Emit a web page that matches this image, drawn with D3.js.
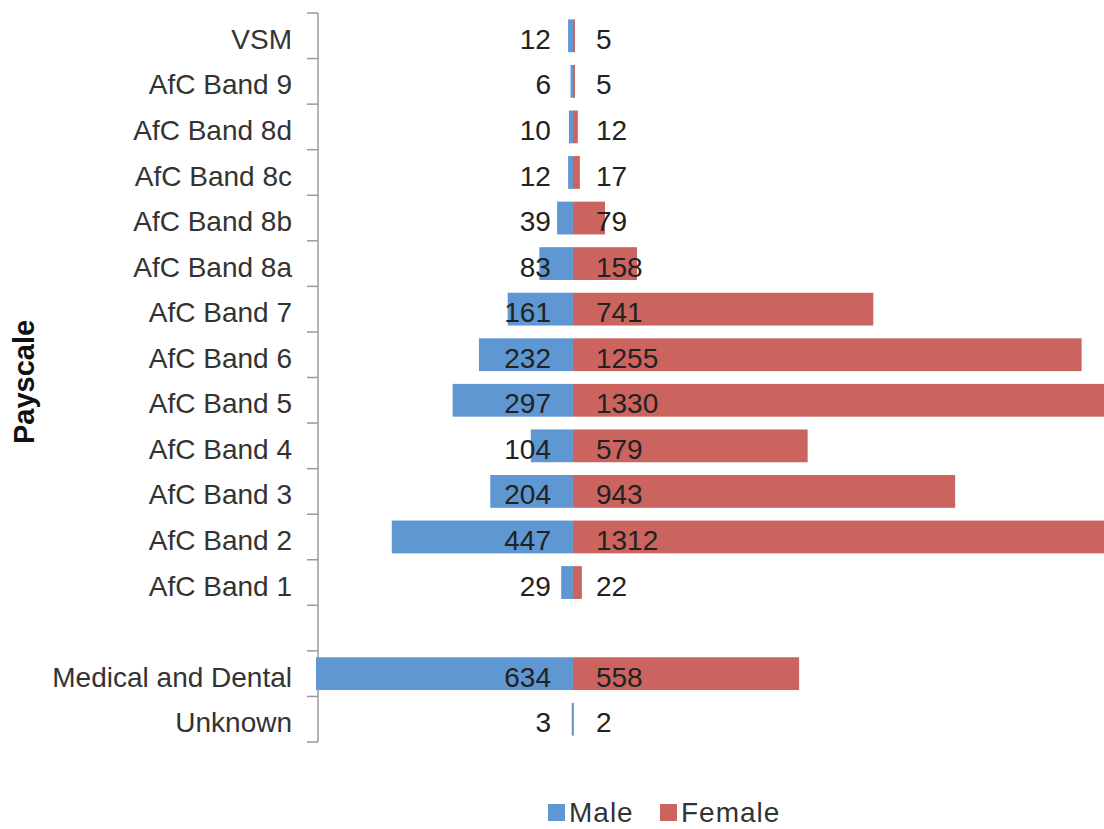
<!DOCTYPE html>
<html>
<head>
<meta charset="utf-8">
<script src="https://cdn.jsdelivr.net/npm/d3@7"></script>
<style>
  body { margin: 0; background: #fff; }
  text { font-family: "Liberation Sans", Arial, sans-serif; }
</style>
</head>
<body>
<div id="chart"></div>
<script>
// categories top to bottom ("" is the empty row)
const categories = ["VSM", "AfC Band 9", "AfC Band 8d", "AfC Band 8c", "AfC Band 8b", "AfC Band 8a",
    "AfC Band 7", "AfC Band 6", "AfC Band 5", "AfC Band 4", "AfC Band 3", "AfC Band 2", "AfC Band 1",
    "", "Medical and Dental", "Unknown"];
const maleValues   = [12, 6, 10, 12, 39, 83, 161, 232, 297, 104, 204, 447, 29, null, 634, 3];
const femaleValues = [5, 5, 12, 17, 79, 158, 741, 1255, 1330, 579, 943, 1312, 22, null, 558, 2];
const seriesNames = ["Male", "Female"];
const colors = ["#5f97d2", "#cb645f"];

const width = 1104, height = 829;

const data = categories.map((c, i) => ({ key: "r" + i, label: c, male: maleValues[i], female: femaleValues[i] }));

const svg = d3.select("#chart").append("svg")
    .attr("width", width)
    .attr("height", height);

const y = d3.scaleBand()
    .domain(data.map(d => d.key))
    .range([13, 742])
    .paddingInner(0.28)
    .paddingOuter(0.14);

const x = d3.scaleLinear()
    .domain([-634, 1330])
    .range([316, 1112]);

// axis on the left
const axisG = svg.append("g")
    .attr("transform", "translate(318,0)");
axisG.append("line")
    .attr("y1", 13).attr("y2", 742)
    .attr("stroke", "#9a9a9a").attr("stroke-width", 1.5);
const step = (742 - 13) / categories.length;
axisG.selectAll(".tick")
    .data(d3.range(categories.length + 1))
    .enter().append("line")
    .attr("x1", -11).attr("x2", 0)
    .attr("y1", i => 13 + i * step)
    .attr("y2", i => 13 + i * step)
    .attr("stroke", "#9a9a9a").attr("stroke-width", 1.5);

svg.selectAll(".cat")
    .data(data)
    .enter().append("text")
    .attr("class", "cat")
    .attr("x", 292)
    .attr("y", d => y(d.key) + y.bandwidth() / 2 + 3)
    .attr("dy", "0.36em")
    .attr("text-anchor", "end")
    .style("font-size", "28px")
    .style("fill", "#333")
    .text(d => d.label);

const rows = data.filter(d => d.male != null);

svg.selectAll(".male")
    .data(rows)
    .enter().append("rect")
    .attr("x", d => x(-d.male))
    .attr("y", d => y(d.key))
    .attr("width", d => x(0) - x(-d.male))
    .attr("height", y.bandwidth())
    .attr("fill", colors[0]);

svg.selectAll(".female")
    .data(rows)
    .enter().append("rect")
    .attr("x", x(0))
    .attr("y", d => y(d.key))
    .attr("width", d => x(d.female) - x(0))
    .attr("height", y.bandwidth())
    .attr("fill", colors[1]);

svg.selectAll(".mlabel")
    .data(rows)
    .enter().append("text")
    .attr("x", x(0) - 22)
    .attr("y", d => y(d.key) + y.bandwidth() / 2 + 3)
    .attr("dy", "0.36em")
    .attr("text-anchor", "end")
    .style("font-size", "28px")
    .style("fill", "#222")
    .text(d => d.male);

svg.selectAll(".flabel")
    .data(rows)
    .enter().append("text")
    .attr("x", x(0) + 23)
    .attr("y", d => y(d.key) + y.bandwidth() / 2 + 3)
    .attr("dy", "0.36em")
    .attr("text-anchor", "start")
    .style("font-size", "28px")
    .style("fill", "#222")
    .text(d => d.female);

// y title
svg.append("text")
    .attr("transform", "translate(34,382) rotate(-90)")
    .attr("text-anchor", "middle")
    .style("font-size", "29px")
    .style("font-weight", "bold")
    .style("fill", "#111")
    .text("Payscale");

// legend
const legend = svg.append("g").attr("transform", "translate(548,801)");
const lx = [0, 112];
seriesNames.forEach((name, i) => {
    legend.append("rect")
        .attr("x", lx[i]).attr("y", 3)
        .attr("width", 17).attr("height", 17)
        .attr("fill", colors[i]);
    legend.append("text")
        .attr("x", lx[i] + 21).attr("y", 21)
        .style("font-size", "28px")
        .style("letter-spacing", "1px")
        .style("fill", "#333")
        .text(name);
});
</script>
</body>
</html>
